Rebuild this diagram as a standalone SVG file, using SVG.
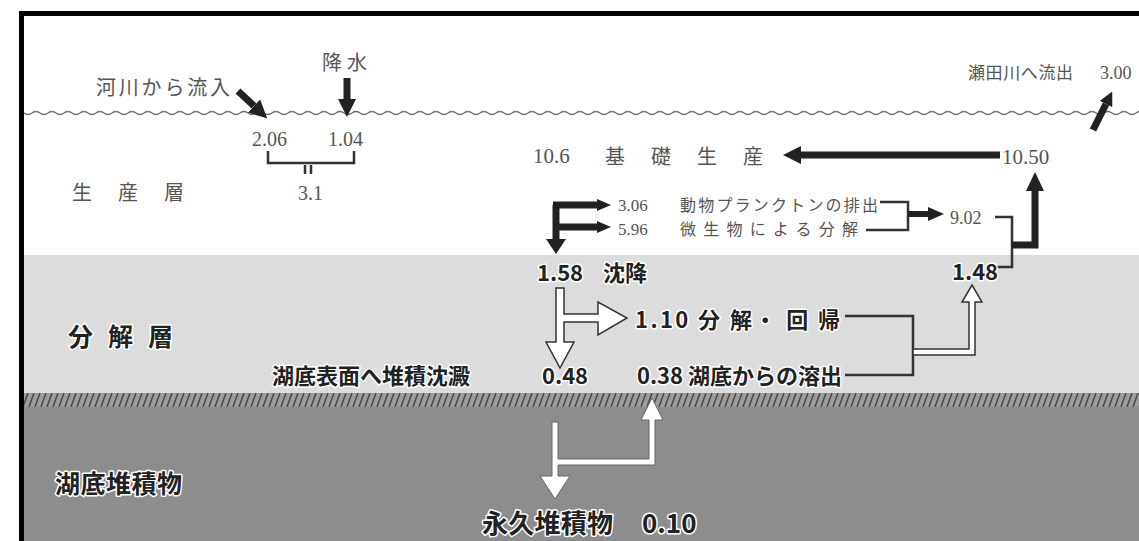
<svg xmlns="http://www.w3.org/2000/svg" width="1139" height="541" viewBox="0 0 1139 541">
<style>
.top{font-family:"Noto Sans CJK JP","Noto Sans",sans-serif;fill:#555;}
.num{font-family:"Liberation Serif",serif;fill:#555;}
.lbl{font-family:"Noto Sans CJK JP","Noto Sans",sans-serif;font-weight:bold;fill:#222;stroke:#fff;stroke-width:3;paint-order:stroke;stroke-linejoin:round;}
.thin{fill:none;stroke:#333;stroke-width:2.5;}
.thick{fill:none;stroke:#222;stroke-width:7;}
.hollow{fill:#fff;stroke:#333;stroke-width:1.5;stroke-linejoin:miter;}
.solidw{fill:#fff;stroke:#666;stroke-width:1;}
</style>
<defs>
<marker id="ah" markerUnits="userSpaceOnUse" markerWidth="18" markerHeight="18" refX="0" refY="9" orient="auto">
<path d="M0,0 L18,9 L0,18 z" fill="#222"/>
</marker>
<marker id="ahs" markerUnits="userSpaceOnUse" markerWidth="14" markerHeight="14" refX="0" refY="7" orient="auto">
<path d="M0,0 L14,7 L0,14 z" fill="#222"/>
</marker>
<pattern id="wave" patternUnits="userSpaceOnUse" x="0" y="108" width="16" height="10">
<path d="M0,5 q4,-3 8,0 t8,0" fill="none" stroke="#666" stroke-width="1.3"/>
</pattern>
<pattern id="hatch" patternUnits="userSpaceOnUse" x="0" y="393" width="6" height="14">
<rect width="6" height="14" fill="#9c9c9c"/>
<path d="M-1,14 L4,0 M5,14 L10,0" stroke="#444" stroke-width="1.4"/>
</pattern>
</defs>

<!-- background layers -->
<rect x="0" y="0" width="1139" height="541" fill="#ffffff"/>
<rect x="22" y="255" width="1117" height="138" fill="#dcdcdc"/>
<rect x="22" y="393" width="1117" height="14" fill="url(#hatch)"/>
<rect x="22" y="407" width="1117" height="134" fill="#8d8d8d"/>
<rect x="22" y="108" width="1117" height="10" fill="url(#wave)"/>
<!-- frame -->
<path d="M21.5,541 L21.5,13.5 L1139,13.5" fill="none" stroke="#000" stroke-width="5"/>

<g id="connectors">
<!-- inflows / outflow -->
<line x1="238" y1="91" x2="254" y2="106" class="thick" marker-end="url(#ah)"/>
<line x1="347" y1="78" x2="347" y2="99" class="thick" marker-end="url(#ah)"/>
<line x1="1093" y1="130" x2="1106" y2="104" class="thick" stroke-width="6" marker-end="url(#ahs)"/>
<!-- bracket 2.06 + 1.04 -->
<path d="M268,151 V163 H354 V151" class="thin"/>
<path d="M305,165 V174 M311,165 V174" class="thin" stroke-width="2"/>
<!-- basic production -->
<line x1="1000" y1="155" x2="801" y2="155" class="thick" marker-end="url(#ah)"/>
<!-- F arrow -->
<path d="M556,205 V240" class="thick"/>
<polygon points="546,239 566,239 556,254" fill="#222"/>
<line x1="553" y1="205" x2="598" y2="205" class="thick"/>
<polygon points="597,199 597,211 611,205" fill="#222"/>
<line x1="553" y1="227" x2="598" y2="227" class="thick"/>
<polygon points="597,221 597,233 611,227" fill="#222"/>
<!-- bracket to 9.02 -->
<path d="M880,202 H908 V230 H866" class="thin"/>
<line x1="908" y1="214" x2="929" y2="214" stroke="#222" stroke-width="6"/>
<polygon points="928,207 928,221 944,214" fill="#222"/>
<!-- 9.02 + 1.48 -> 10.50 -->
<path d="M995,217 H1012 V267 H993" class="thin"/>
<path d="M1012,245 H1035 V190" class="thick"/>
<polygon points="1026,191 1044,191 1035,172" fill="#222"/>
<!-- hollow sedimentation arrow -->
<polygon class="hollow" points="556,288 564,288 564,314 598,314 598,302 627,318 598,335 598,322 564,322 564,342 574,342 560,368 546,342 556,342"/>
<!-- bracket 1.10 + 0.38 -->
<path d="M845,316 H913 V375 H845" class="thin" stroke-width="3"/>
<polygon class="hollow" points="913,349 969,349 969,302 962,302 972,285 982,302 975,302 975,355 913,355"/>
<!-- bottom white arrows -->
<polygon class="solidw" points="552,422 558,422 558,459 649,459 649,420 641,420 652,398 663,420 655,420 655,465 558,465 558,476 570,476 555,499 540,476 552,476"/>
</g>

<g id="n-river-in"><text class="top" x="96" y="95" font-size="20" textLength="134" lengthAdjust="spacing">河川から流入</text></g>
<g id="n-rain"><text class="top" x="322" y="70" font-size="20" textLength="45" lengthAdjust="spacing">降水</text></g>
<g id="n-206"><text class="num" x="252" y="146" font-size="20">2.06</text></g>
<g id="n-104"><text class="num" x="328" y="146" font-size="20">1.04</text></g>
<g id="n-31"><text class="num" x="298" y="200" font-size="20">3.1</text></g>
<g id="n-prodlayer"><text class="top" x="72" y="200" font-size="20" letter-spacing="26">生産層</text></g>
<g id="n-outflow"><text class="top" x="968" y="79" font-size="17" textLength="105" lengthAdjust="spacing">瀬田川へ流出</text><text class="num" x="1100" y="79" font-size="18">3.00</text></g>
<g id="n-basic"><text class="num" x="533" y="163" font-size="21">10.6</text><text class="top" x="605" y="164" font-size="20" letter-spacing="26">基礎生産</text></g>
<g id="n-1050"><text class="num" x="1002" y="164" font-size="21">10.50</text></g>
<g id="n-zoo"><text class="num" x="618" y="211" font-size="17">3.06</text><text class="top" x="680" y="211" font-size="16" textLength="198" lengthAdjust="spacing">動物プランクトンの排出</text></g>
<g id="n-micro"><text class="num" x="618" y="235" font-size="17">5.96</text><text class="top" x="680" y="235" font-size="16" textLength="178" lengthAdjust="spacing">微生物による分解</text></g>
<g id="n-902"><text class="num" x="950" y="224" font-size="18">9.02</text></g>
<g id="n-148"><text class="lbl" x="952" y="280" font-size="22" font-family="Roboto">1.48</text></g>
<g id="n-158"><text class="lbl" x="537" y="281" font-size="22">1.58</text><text class="lbl" x="603" y="281" font-size="22">沈降</text></g>
<g id="n-declayer"><text class="lbl" x="68" y="346" font-size="25" letter-spacing="15">分解層</text></g>
<g id="n-110"><text class="lbl" x="635" y="328" font-size="22" textLength="205" lengthAdjust="spacing">1.10 分 解・ 回 帰</text></g>
<g id="n-surface"><text class="lbl" x="272" y="384" font-size="22" textLength="198" lengthAdjust="spacing">湖底表面へ堆積沈澱</text></g>
<g id="n-048"><text class="lbl" x="542" y="384" font-size="22">0.48</text></g>
<g id="n-038"><text class="lbl" x="637" y="384" font-size="22" textLength="205" lengthAdjust="spacing">0.38 湖底からの溶出</text></g>
<g id="n-sediment"><text class="lbl" x="55" y="493" font-size="25" textLength="127" lengthAdjust="spacing">湖底堆積物</text></g>
<g id="n-permanent"><text class="lbl" x="482" y="533" font-size="26" textLength="131" lengthAdjust="spacing">永久堆積物</text><text class="lbl" x="642" y="533" font-size="26">0.10</text></g>
</svg>
